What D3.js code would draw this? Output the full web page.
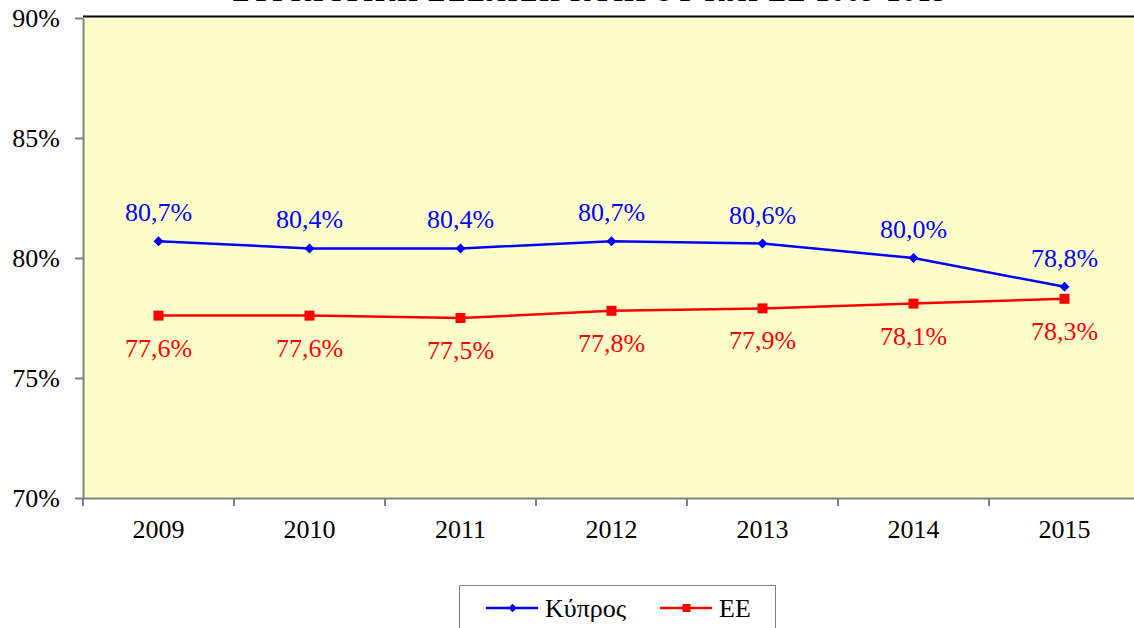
<!DOCTYPE html>
<html>
<head>
<meta charset="utf-8">
<script src="https://cdn.jsdelivr.net/npm/d3@7"></script>
<style>
  body { margin: 0; background: #fff; }
  svg { display: block; }
</style>
</head>
<body>
<svg id="chart" width="1134" height="628"></svg>
<script>
const years = ["2009", "2010", "2011", "2012", "2013", "2014", "2015"];
const cyprus = [80.7, 80.4, 80.4, 80.7, 80.6, 80.0, 78.8];
const eu = [77.6, 77.6, 77.5, 77.8, 77.9, 78.1, 78.3];
const yTicks = [70, 75, 80, 85, 90];
const seriesNames = ["Κύπρος", "EE"];
const title = "ΣΥΓΚΡΙΤΙΚΗ ΕΞΕΛΙΞΗ ΚΥΠΡΟΥ ΚΑΙ ΕΕ 2009-2015";

const svg = d3.select("#chart");
const plotLeft = 83, plotRight = 1140, plotTop = 18, plotBottom = 498;
const fontSize = "26px";
const serif = "'Liberation Serif', 'Times New Roman', Times, serif";

const x = d3.scaleBand().domain(years).range([plotLeft, plotRight]);
const y = d3.scaleLinear().domain([70, 90]).range([plotBottom, plotTop]);
const fmt = v => v.toFixed(1).replace(".", ",") + "%";

// title, mostly clipped by the top edge like in the original
svg.append("text")
    .attr("x", 589)
    .attr("y", 1)
    .attr("text-anchor", "middle")
    .attr("textLength", 713)
    .attr("lengthAdjust", "spacing")
    .style("font-family", serif)
    .style("font-size", fontSize)
    .style("font-weight", "bold")
    .text(title);

// plot area
svg.append("rect")
    .attr("x", plotLeft)
    .attr("y", plotTop)
    .attr("width", plotRight - plotLeft)
    .attr("height", plotBottom - plotTop)
    .attr("fill", "#FFFFCC");

svg.append("line")
    .attr("x1", plotLeft).attr("x2", plotRight)
    .attr("y1", plotTop - 1.5).attr("y2", plotTop - 1.5)
    .attr("stroke", "#000")
    .attr("stroke-width", 2);

// y axis
const yAxis = svg.append("g")
    .attr("transform", `translate(${plotLeft},0)`)
    .call(d3.axisLeft(y).tickValues(yTicks).tickSize(8).tickSizeOuter(0).tickPadding(15).tickFormat(d => d + "%"));
yAxis.attr("font-family", null);
yAxis.select(".domain").attr("stroke", "#808080").attr("stroke-width", 2);
yAxis.selectAll(".tick line").attr("stroke", "#808080").attr("stroke-width", 2);
yAxis.selectAll(".tick text")
    .attr("fill", "#000")
    .style("font-family", serif)
    .style("font-size", fontSize);

// x axis
const xAxis = svg.append("g")
    .attr("transform", `translate(0,${plotBottom})`)
    .call(d3.axisBottom(x).tickSize(0).tickPadding(22));
xAxis.attr("font-family", null);
xAxis.select(".domain").attr("stroke", "#808080").attr("stroke-width", 2);
xAxis.selectAll(".tick text")
    .attr("fill", "#000")
    .style("font-family", serif)
    .style("font-size", fontSize);
xAxis.selectAll(".sep")
    .data(years)
    .join("line")
    .attr("class", "sep")
    .attr("x1", d => x(d)).attr("x2", d => x(d))
    .attr("y1", 0).attr("y2", 8)
    .attr("stroke", "#808080")
    .attr("stroke-width", 2);

const cx = d => x(d) + x.bandwidth() / 2;

function drawSeries(values, color, marker, markerSize, labelDy) {
    const pts = values.map((v, i) => ({ year: years[i], v }));
    svg.append("path")
        .datum(pts)
        .attr("fill", "none")
        .attr("stroke", color)
        .attr("stroke-width", 2.5)
        .attr("d", d3.line().x(d => cx(d.year)).y(d => y(d.v)));

    svg.append("g").selectAll("path")
        .data(pts)
        .join("path")
        .attr("transform", d => `translate(${cx(d.year)},${y(d.v)})`)
        .attr("d", d3.symbol().type(marker).size(markerSize))
        .attr("fill", color);

    svg.append("g").selectAll("text")
        .data(pts)
        .join("text")
        .attr("x", d => cx(d.year))
        .attr("y", d => y(d.v) + labelDy)
        .attr("text-anchor", "middle")
        .attr("fill", color)
        .style("font-family", serif)
        .style("font-size", fontSize)
        .text(d => fmt(d.v));
}

drawSeries(cyprus, "#0000FF", d3.symbolDiamond2, 64, -20);
drawSeries(eu, "#FF0000", d3.symbolSquare, 100, 41);

// legend
const legend = svg.append("g");
legend.append("rect")
    .attr("x", 459.5).attr("y", 585.5)
    .attr("width", 316).attr("height", 60)
    .attr("fill", "#fff")
    .attr("stroke", "#808080")
    .attr("stroke-width", 1);

const legendItems = [
    { name: seriesNames[0], color: "#0000FF", marker: d3.symbolDiamond2, size: 45, x: 486 },
    { name: seriesNames[1], color: "#FF0000", marker: d3.symbolSquare, size: 64, x: 660 }
];
legendItems.forEach(it => {
    legend.append("line")
        .attr("x1", it.x).attr("x2", it.x + 52)
        .attr("y1", 608).attr("y2", 608)
        .attr("stroke", it.color)
        .attr("stroke-width", 2.5);
    legend.append("path")
        .attr("transform", `translate(${it.x + 26.5},608)`)
        .attr("d", d3.symbol().type(it.marker).size(it.size))
        .attr("fill", it.color);
    legend.append("text")
        .attr("x", it.x + 59)
        .attr("y", 617)
        .style("font-family", serif)
        .style("font-size", fontSize)
        .text(it.name);
});
</script>
</body>
</html>
